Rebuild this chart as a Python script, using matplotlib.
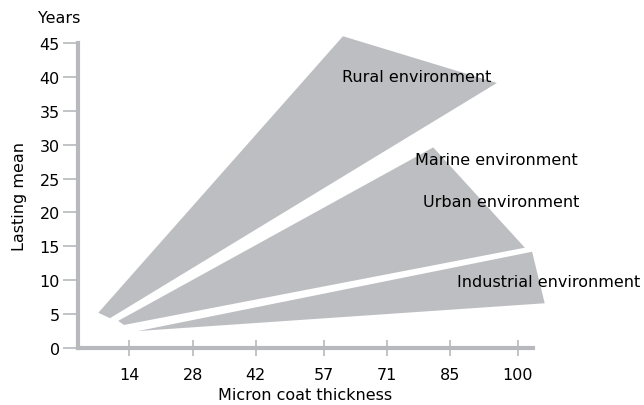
import numpy as np
import matplotlib
matplotlib.use('Agg')
import matplotlib.pyplot as plt
from matplotlib.patches import Polygon

# band outlines (micron coat thickness, years)
rural_x = [7.1, 9.7, 95.4, 61.3]
rural_y = [5.2, 4.4, 39.1, 46.0]
urban_x = [11.5, 12.8, 101.6, 81.3]
urban_y = [4.0, 3.4, 14.8, 29.6]
indus_x = [15.9, 106.0, 103.2]
indus_y = [2.5, 6.6, 14.2]

xticks = [14, 28, 42, 57, 71, 85, 100]
yticks = [0, 5, 10, 15, 20, 25, 30, 35, 40, 45]

labels = ['Rural environment', 'Marine environment', 'Urban environment', 'Industrial environment']
label_x = [61.0, 77.3, 79.0, 86.6]
label_y = [40.1, 27.8, 21.6, 9.8]

grey = '#bdbec1'
axis_grey = '#b8b9bc'
fs = 11.5

plt.rcParams['font.family'] = 'DejaVu Sans'
fig = plt.figure(figsize=(6.44, 4.06), dpi=100, facecolor='w')
ax = fig.add_axes([0.1211, 0.1404, 0.7065, 0.7512])

for xs, ys in [(rural_x, rural_y), (urban_x, urban_y), (indus_x, indus_y)]:
    ax.add_patch(Polygon(np.column_stack([xs, ys]), closed=True, fc=grey, ec='none', clip_on=False))

for t, x, y in zip(labels, label_x, label_y):
    ax.text(x, y, t, fontsize=fs, va='center', ha='left', color='black')

ax.set_xlim(2.6, 103.4)
ax.set_ylim(0, 45)
ax.set_xticks(xticks)
ax.set_xticklabels([str(v) for v in xticks])
ax.set_yticks(yticks)

for s in ['top', 'right']:
    ax.spines[s].set_visible(False)
for s in ['left', 'bottom']:
    ax.spines[s].set_color(axis_grey)
    ax.spines[s].set_linewidth(3)

ax.tick_params(axis='y', direction='out', length=11, width=1.2, color=axis_grey, pad=2, labelsize=fs)
ax.tick_params(axis='x', direction='inout', length=12, width=1.2, color=axis_grey, pad=8, labelsize=fs)

ax.set_xlabel('Micron coat thickness', fontsize=fs, labelpad=3)
ax.set_ylabel('Lasting mean', fontsize=fs, labelpad=9)
fig.text(0.059, 0.955, 'Years', fontsize=fs, va='center', ha='left')

fig.savefig('out.png', dpi=100)
